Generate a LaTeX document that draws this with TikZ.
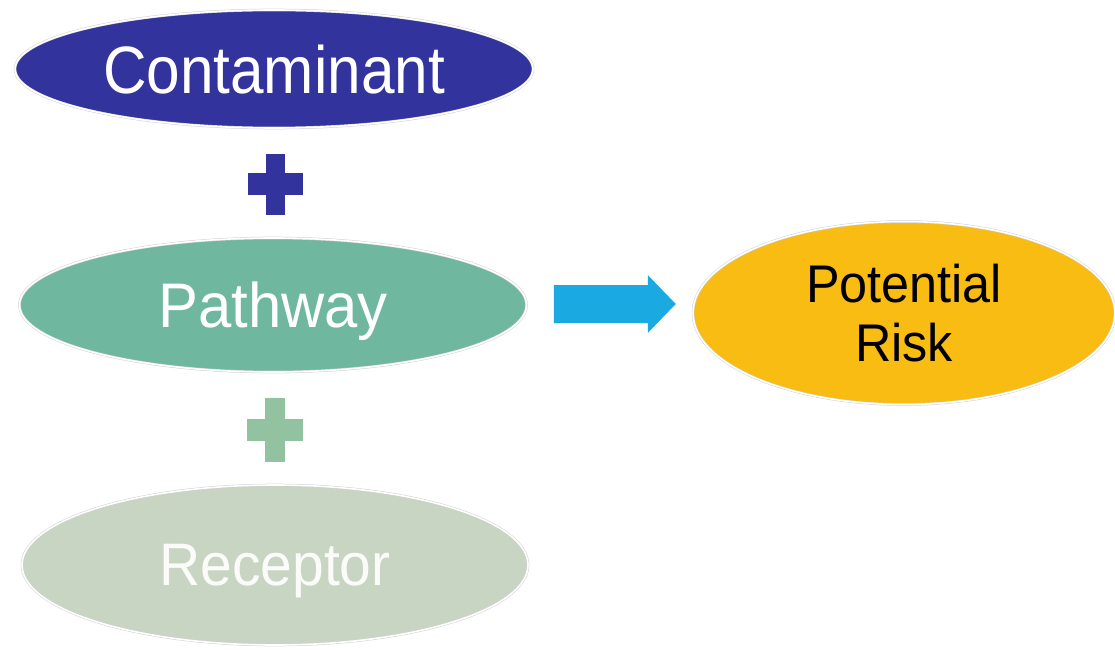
\documentclass[tikz,border=0pt]{standalone}
\usepackage{fontspec}
\setmainfont{Liberation Sans}
\newfontfamily\narrowfont{Liberation Sans}[FakeStretch=0.90]
\newfontfamily\labelfont{Liberation Sans}[FakeStretch=0.95]
\usetikzlibrary{shapes.geometric,calc}
\definecolor{contblue}{HTML}{33339E}
\definecolor{pathgreen}{HTML}{6FB89F}
\definecolor{recgray}{HTML}{C9D5C3}
\definecolor{plusgreen}{HTML}{93C2A0}
\definecolor{arrowblue}{HTML}{1BA9E1}
\definecolor{riskgold}{HTML}{F8BC12}
\tikzset{
  blob/.style={ellipse, inner sep=0pt, draw=black!18, double=white,
    double distance=1.6pt, line width=0.5pt, align=center, text depth=0pt},
  plusbar/.style={rectangle, inner sep=0pt, draw=none},
}
\begin{document}
\begin{tikzpicture}[x=1pt,y=1pt]
\useasboundingbox (0,0) rectangle (1115,649);
% the three factors
\node[blob, fill=contblue, text=white, font=\narrowfont\fontsize{67}{67}\selectfont,
  minimum width=518pt, minimum height=118pt] (cont) at (274,580) {Contaminant};
\node[blob, fill=pathgreen, text=white, font=\labelfont\fontsize{63}{63}\selectfont,
  minimum width=507pt, minimum height=134pt] (pw) at (273,344) {Pathway};
\node[blob, fill=recgray, text=white!92!recgray, font=\labelfont\fontsize{60}{60}\selectfont,
  minimum width=506pt, minimum height=160pt] (rec) at (275,84) {Receptor};
% plus signs between them
\node[plusbar, fill=contblue, minimum width=19pt, minimum height=61pt] (p1v) at (275.5,464.5) {};
\node[plusbar, fill=contblue, minimum width=55pt, minimum height=22pt] (p1h) at (p1v.center) {};
\node[plusbar, fill=plusgreen, minimum width=20pt, minimum height=64pt] (p2v) at (275,219) {};
\node[plusbar, fill=plusgreen, minimum width=56pt, minimum height=22pt] (p2h) at (p2v.center) {};
% result
\node[blob, fill=riskgold, text=black, font=\labelfont\fontsize{53}{59}\selectfont,
  minimum width=422pt, minimum height=183pt] (risk) at (904,336) {Potential\\Risk};
% block arrow from the factors to the result
\coordinate (a0) at ($(pw.east)+(27,1)$);
\fill[arrowblue] ($(a0)+(0,19)$) -- ++(94,0) -- ++(0,10) -- ++(28,-29)
  -- ++(-28,-29) -- ++(0,10) -- ++(-94,0) -- cycle;
\end{tikzpicture}
\end{document}
